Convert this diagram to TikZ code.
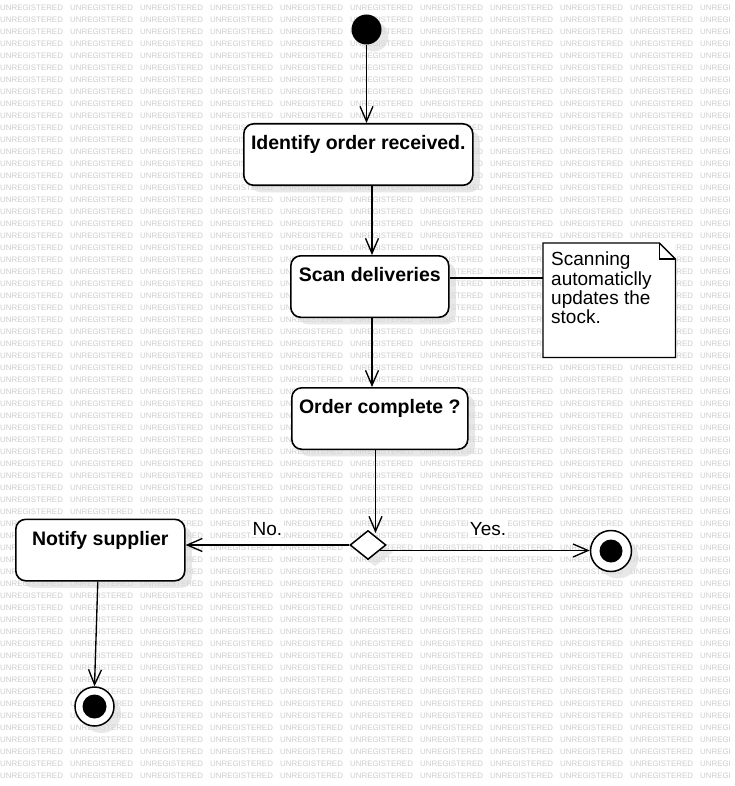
\documentclass[tikz,border=0pt]{standalone}
\usepackage{fontspec}
\setmainfont{Liberation Sans}
\usetikzlibrary{arrows.meta,shapes.geometric,shadows}
\definecolor{wm}{RGB}{205,205,205}
\begin{document}
\begin{tikzpicture}[x=1pt,y=-1pt,
  every node/.style={inner sep=0pt},
  shad/.style={drop shadow={shadow xshift=7pt,shadow yshift=-7pt,fill=black!15,opacity=0.6}},
  actbox/.style={draw,line width=1.6pt,fill=white,rounded corners=10pt,
    minimum height=61.5pt,text height=26pt,text depth=35.5pt,
    font=\fontsize{19.5}{22}\selectfont\bfseries,shad,anchor=north west},
  wmtext/.style={anchor=west,text=wm,font=\fontsize{7.9}{8}\selectfont},
  conn/.style={line width=1.35pt},
  arr/.style={conn,-{Straight Barb[length=15pt,width=13pt]}},
  lbl/.style={fill=white,inner sep=1.5pt,font=\fontsize{19}{22}\selectfont},
  notetxt/.style={align=left,font=\fontsize{19}{19.3}\selectfont},
  finring/.style={circle,draw,line width=1.5pt,fill=white,minimum size=41pt,shad},
  findot/.style={circle,fill=black,minimum size=23pt}
]
\useasboundingbox (0,0) rectangle (735,786);
\fill[white] (0,0) rectangle (735,786);
% watermark
\foreach \r in {0,...,64}{
  \foreach \c in {0,...,9}{
    \node[wmtext] (w\r-\c) at (70*\c,7.5+12*\r) {UNREGISTERED};}
  \node[wmtext] (w\r-10) at (700,7.5+12*\r) {UNREGI};}
% nodes
\node[circle,fill=black,minimum size=30pt,shad] (init) at (366.5,29.5) {};
\node[actbox,minimum width=229pt] (b1) at (243,123) {Identify order received.};
\node[actbox,minimum width=158pt] (b2) at (290,255) {Scan deliveries};
\node[actbox,minimum width=176pt] (b3) at (291,387) {Order complete ?};
\node[actbox,minimum width=169pt] (b4) at (15,518.5) {Notify supplier};
\node[diamond,draw,line width=1.5pt,fill=white,minimum width=36pt,minimum height=29pt,shad] (d) at (368,545) {};
\node[finring] (fin1) at (611,551) {};
\node[findot] (fin1dot) at (fin1) {};
\node[finring,minimum size=39pt] (fin2) at (94.5,706.5) {};
\node[findot,minimum size=24pt] (fin2dot) at (fin2) {};
% note
\node[fill=white,minimum width=132pt,minimum height=114pt,anchor=north west] (note) at (543,243) {};
\draw[line width=1.3pt] (note.north west) -- ([xshift=-16pt]note.north east) -- ([yshift=-16pt]note.north east) -- (note.south east) -- (note.south west) -- cycle;
\draw[line width=1.1pt] ([xshift=-16pt]note.north east) -- ([xshift=-16pt,yshift=-16pt]note.north east) -- ([yshift=-16pt]note.north east);
\node[notetxt,anchor=north west] (notetext) at ([xshift=8pt,yshift=-9pt]note.north west) {Scanning\\automaticlly\\updates the\\stock.};
% connectors
\coordinate (x2) at (372,0);
\coordinate (y2) at (0,278);
\coordinate (x3) at (375.5,533);
\coordinate (ys) at (380,550.5);
\draw[arr] (init.south) -- (init.south |- b1.north);
\draw[arr] (b1.south -| x2) -- (b2.north -| x2);
\draw[arr] (b2.south -| x2) -- (b3.north -| x2);
\draw[arr] (b3.south -| x3) -- (x3);
\draw[conn] (b2.east |- y2) -- (note.west |- y2);
\draw[arr] (d.west) -- (d.west -| b4.east)
  node[lbl,midway,anchor=base,yshift=10pt] (nolbl) {No.};
\draw[arr] (ys) -- (ys -| fin1.west)
  node[lbl,pos=0.515,anchor=base,yshift=15.5pt] (yeslbl) {Yes.};
\draw[arr] ([xshift=-2.5pt]b4.south) -- (fin2.north);
\end{tikzpicture}
\end{document}
